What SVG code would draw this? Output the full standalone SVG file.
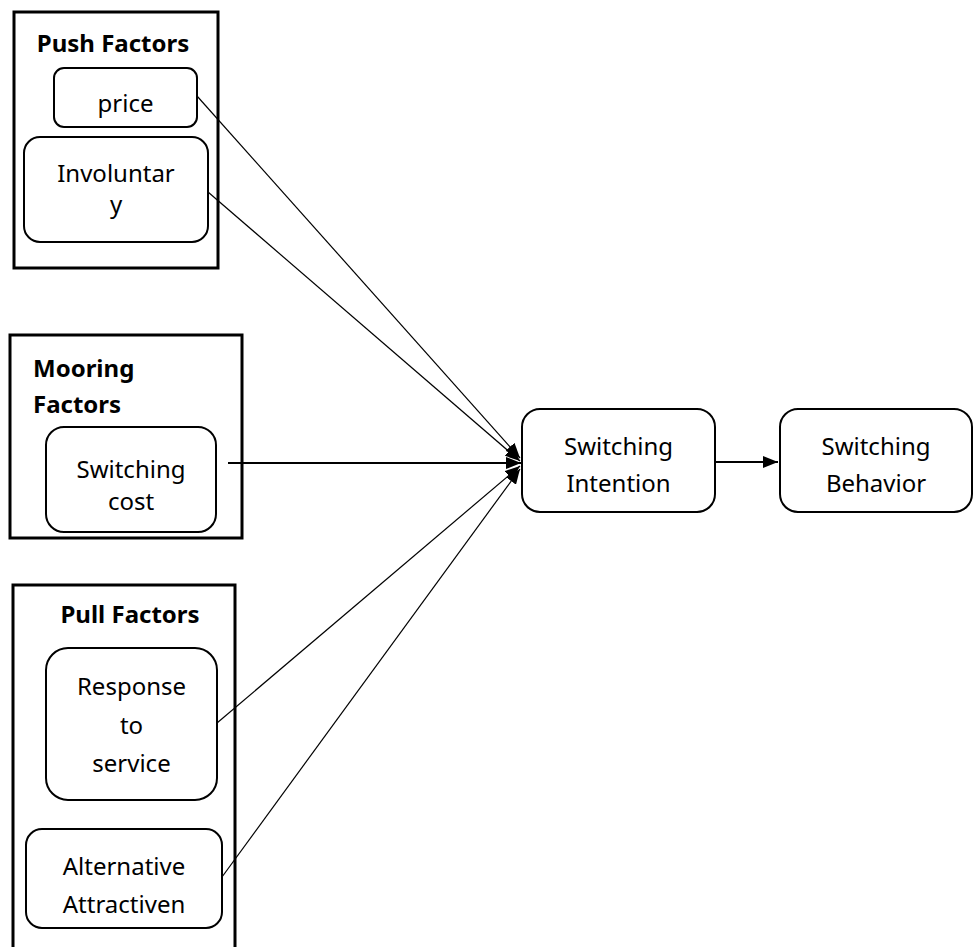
<svg xmlns="http://www.w3.org/2000/svg" width="975" height="947" viewBox="0 0 975 947">
<style>
.grp{fill:none;stroke:#000;stroke-width:3}
.node{fill:#fff;stroke:#000;stroke-width:2}
.t{font-family:"Noto Sans","Liberation Sans",sans-serif;font-size:24px;fill:#000;text-anchor:middle}
.b{font-weight:bold}
.thin{stroke:#000;stroke-width:1.2;fill:none}
.thick{stroke:#000;stroke-width:2;fill:none}
</style>
<defs>
<marker id="ah" viewBox="0 0 15 12" refX="15" refY="6" markerWidth="15" markerHeight="12" markerUnits="userSpaceOnUse" orient="auto">
<path d="M0,0 L15,6 L0,12 z" fill="#000"/>
</marker>
</defs>
<rect width="975" height="947" fill="#fff"/>
<g id="push-factors">
<rect class="grp" x="14" y="12" width="204" height="256"/>
<text class="t b" x="113" y="52">Push Factors</text>
</g>
<g id="price">
<rect class="node" x="54" y="68" width="143" height="59" rx="10"/>
<text class="t" x="125.5" y="112">price</text>
</g>
<g id="involuntary">
<rect class="node" x="24" y="137" width="184" height="105" rx="16"/>
<text class="t" x="116" y="182">Involuntar</text>
<text class="t" x="116" y="213">y</text>
</g>
<g id="mooring-factors">
<rect class="grp" x="10" y="335" width="232" height="203"/>
<text class="t b" x="33" y="377" style="text-anchor:start">Mooring</text>
<text class="t b" x="33" y="413" style="text-anchor:start">Factors</text>
</g>
<g id="switching-cost">
<rect class="node" x="46" y="427" width="170" height="105" rx="18"/>
<text class="t" x="131" y="478">Switching</text>
<text class="t" x="131" y="510">cost</text>
</g>
<g id="pull-factors">
<rect class="grp" x="13" y="585" width="222" height="380"/>
<text class="t b" x="130" y="623">Pull Factors</text>
</g>
<g id="response-to-service">
<rect class="node" x="46" y="648" width="171" height="152" rx="22"/>
<text class="t" x="131.5" y="695">Response</text>
<text class="t" x="131.5" y="734">to</text>
<text class="t" x="131.5" y="772">service</text>
</g>
<g id="alternative-attractiveness">
<rect class="node" x="26" y="829" width="196" height="99" rx="16"/>
<text class="t" x="124" y="875">Alternative</text>
<text class="t" x="124" y="913">Attractiven</text>
</g>
<g id="switching-intention">
<rect class="node" x="522" y="409" width="193" height="103" rx="18"/>
<text class="t" x="618.5" y="455">Switching</text>
<text class="t" x="618.5" y="492">Intention</text>
</g>
<g id="switching-behavior">
<rect class="node" x="780" y="409" width="192" height="103" rx="18"/>
<text class="t" x="876" y="455">Switching</text>
<text class="t" x="876" y="492">Behavior</text>
</g>
<g id="connectors">
<line class="thin" x1="197" y1="96" x2="520" y2="458" marker-end="url(#ah)"/>
<line class="thin" x1="208" y1="192" x2="520" y2="461" marker-end="url(#ah)"/>
<line class="thick" x1="228" y1="463" x2="521" y2="463" marker-end="url(#ah)"/>
<line class="thin" x1="217" y1="723" x2="520" y2="466" marker-end="url(#ah)"/>
<line class="thin" x1="222" y1="877" x2="520" y2="469" marker-end="url(#ah)"/>
<line class="thick" x1="715" y1="462" x2="778" y2="462" marker-end="url(#ah)"/>
</g>
</svg>
